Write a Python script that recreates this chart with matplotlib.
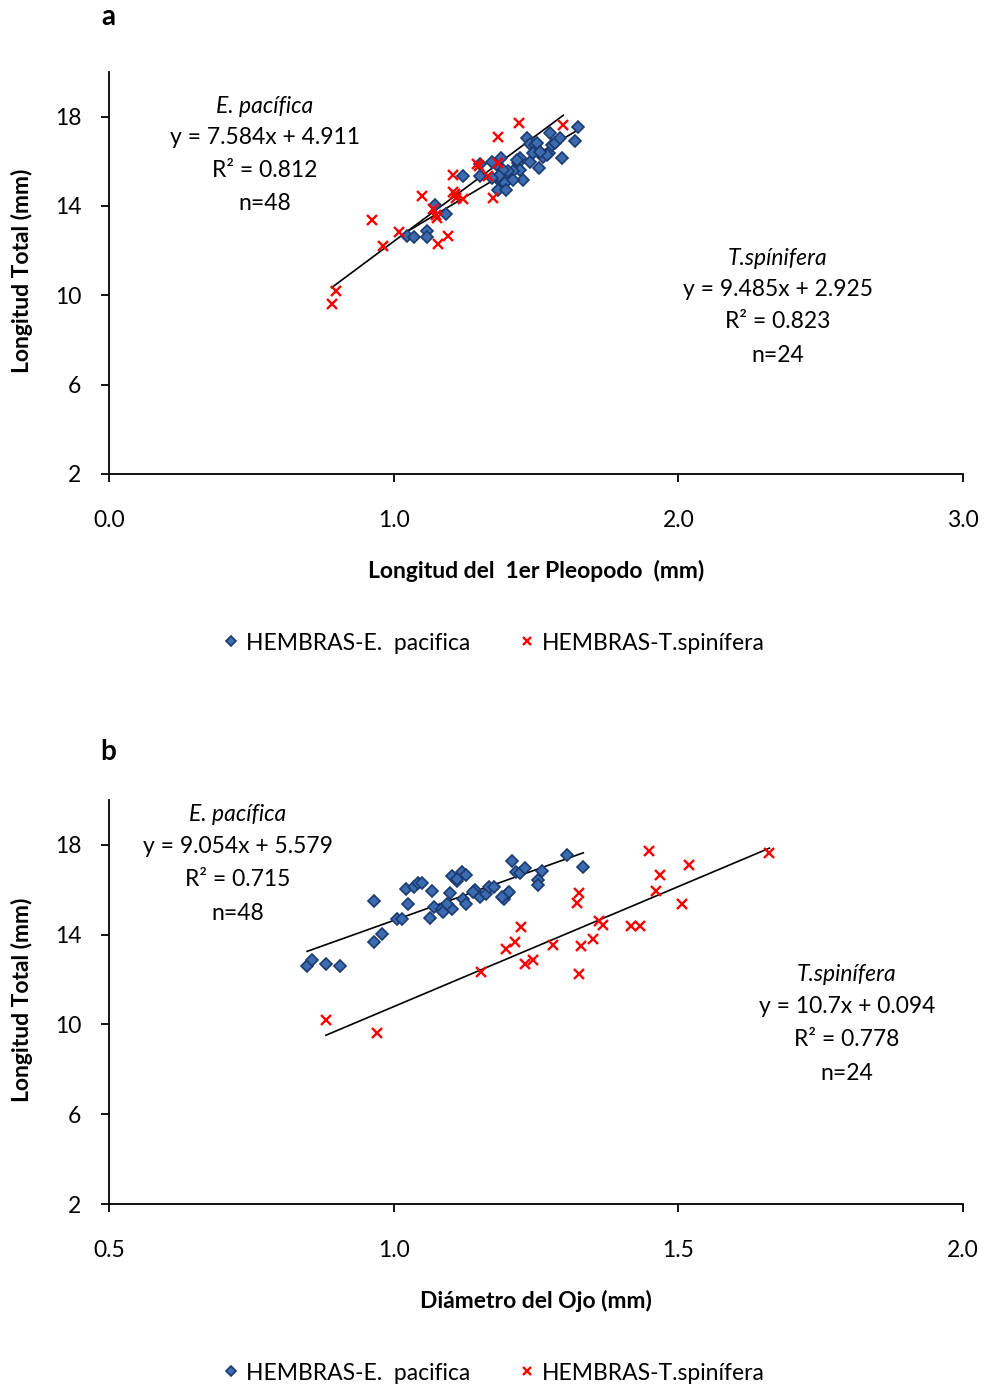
import numpy as np
import matplotlib
matplotlib.use("Agg")
import matplotlib.pyplot as plt

plt.rcParams['font.family'] = ['Lato', 'DejaVu Sans']

# panel a: longitud del 1er pleopodo vs longitud total
pleo_ep = [1.048, 1.071, 1.118, 1.118, 1.145, 1.183, 1.245, 1.303, 1.303, 1.344,
           1.377, 1.374, 1.362, 1.379, 1.397, 1.391, 1.368, 1.394, 1.444, 1.438,
           1.444, 1.455, 1.467, 1.479, 1.496, 1.502, 1.490, 1.479, 1.512, 1.526,
           1.547, 1.549, 1.557, 1.566, 1.584, 1.590, 1.637, 1.646, 1.420, 1.432,
           1.403, 1.385, 1.369, 1.502, 1.538, 1.344, 1.420, 1.514]
lt_ep_a = [12.67, 12.59, 12.89, 12.59, 14.03, 13.66, 15.36, 15.36, 15.87, 15.95,
           16.14, 15.70, 15.25, 15.03, 15.40, 15.03, 14.71, 14.71, 16.14, 15.92,
           15.62, 15.15, 17.03, 16.78, 16.73, 16.54, 16.39, 15.95, 15.70, 16.21,
           16.36, 17.28, 16.73, 16.81, 17.03, 16.14, 16.92, 17.54, 15.55, 16.07,
           15.55, 15.62, 15.36, 16.81, 16.28, 15.25, 15.18, 16.43]
pleo_ts = [0.782, 0.796, 0.923, 0.964, 1.020, 1.098, 1.139, 1.151, 1.155, 1.190,
           1.209, 1.209, 1.218, 1.242, 1.294, 1.332, 1.350, 1.367, 1.365, 1.442,
           1.596, 1.215, 1.150, 1.300]
lt_ts_a = [9.59, 10.19, 13.38, 12.22, 12.85, 14.44, 13.88, 13.48, 12.30, 12.67,
           15.40, 14.62, 14.37, 14.29, 15.87, 15.33, 14.37, 15.92, 17.10, 17.72,
           17.62, 14.55, 13.60, 15.80]

# panel b: diametro del ojo vs longitud total
ojo_ep = [0.848, 0.856, 0.881, 0.905, 0.965, 0.965, 0.979, 1.006, 1.014, 1.021,
          1.025, 1.036, 1.042, 1.064, 1.067, 1.071, 1.085, 1.087, 1.099, 1.102,
          1.094, 1.102, 1.111, 1.120, 1.127, 1.121, 1.127, 1.143, 1.151, 1.162,
          1.168, 1.176, 1.193, 1.200, 1.203, 1.207, 1.215, 1.222, 1.230, 1.253,
          1.253, 1.260, 1.305, 1.333, 1.111, 1.140, 1.190, 1.050]
lt_ep_b = [12.59, 12.89, 12.70, 12.61, 15.52, 13.67, 14.01, 14.71, 14.71, 16.05,
           15.36, 16.14, 16.32, 14.73, 15.96, 15.25, 15.13, 15.03, 15.87, 15.13,
           15.36, 16.63, 16.39, 16.78, 16.66, 15.59, 15.36, 15.99, 15.70, 15.81,
           16.14, 16.14, 15.59, 15.84, 15.92, 17.29, 16.78, 16.73, 16.95, 16.44,
           16.22, 16.84, 17.57, 17.03, 16.50, 15.90, 15.70, 16.30]
ojo_ts = [0.881, 0.971, 1.154, 1.197, 1.214, 1.224, 1.231, 1.245, 1.280, 1.326,
          1.322, 1.329, 1.326, 1.351, 1.361, 1.368, 1.416, 1.432, 1.449, 1.460,
          1.467, 1.506, 1.519, 1.660]
lt_ts_b = [10.20, 9.61, 12.33, 13.38, 13.67, 14.35, 12.68, 12.87, 13.56, 15.87,
           15.43, 13.48, 12.25, 13.82, 14.62, 14.44, 14.37, 14.37, 17.72, 15.96,
           16.66, 15.36, 17.10, 17.65]

# tendencias (pendiente, intercepto) y textos
fit_a = {'ep': (7.584, 4.911), 'ts': (9.485, 2.925)}
fit_b = {'ep': (9.054, 5.579), 'ts': (10.7, 0.094)}
txt_a_ep = ['E. pacífica', 'y = 7.584x + 4.911', 'R² = 0.812', 'n=48']
txt_a_ts = ['T.spínifera', 'y = 9.485x + 2.925', 'R² = 0.823', 'n=24']
txt_b_ep = ['E. pacífica', 'y = 9.054x + 5.579', 'R² = 0.715', 'n=48']
txt_b_ts = ['T.spinífera', 'y = 10.7x + 0.094', 'R² = 0.778', 'n=24']

blue_face = '#3d6bb0'
blue_edge = '#1a3a70'
red = '#ff0000'
fs = 16.5

fig = plt.figure(figsize=(9.86, 13.87), dpi=100)
ax_a = fig.add_axes([0.1105, 0.6583, 0.8662, 0.2898])
ax_b = fig.add_axes([0.1105, 0.1319, 0.8662, 0.2913])


def trend(ax, x, m, b):
    xs = np.array([min(x), max(x)])
    ax.plot(xs, m * xs + b, color='black', lw=1.2, zorder=3)


def block(ax, x, ys, lines):
    for i, (y, t) in enumerate(zip(ys, lines)):
        ax.text(x, y, t, transform=ax.transAxes, ha='center', va='center',
                fontsize=fs, style='italic' if i == 0 else 'normal')


def style_axes(ax, xlim, xticks, xlabel):
    ax.set_xlim(*xlim)
    ax.set_ylim(2, 20)
    ax.set_xticks(xticks)
    ax.set_xticklabels([f'{v:.1f}' for v in xticks])
    ax.set_yticks([2, 6, 10, 14, 18])
    for s in ['top', 'right']:
        ax.spines[s].set_visible(False)
    for s in ['left', 'bottom']:
        ax.spines[s].set_linewidth(1.3)
    ax.tick_params(axis='x', direction='out', length=6, width=1.3, pad=20, labelsize=fs)
    ax.tick_params(axis='y', direction='out', length=6, width=1.3, pad=14, labelsize=fs)
    ax.set_xlabel(xlabel, fontsize=fs, weight='bold', va='center')
    ax.xaxis.set_label_coords(0.5, -0.241)
    ax.set_ylabel('Longitud Total (mm)', fontsize=fs, weight='bold', va='center')
    ax.yaxis.set_label_coords(-0.102, 0.505)


def panel(ax, x_ep, y_ep, x_ts, y_ts, fits, legend_y):
    h1, = ax.plot(x_ep, y_ep, 'D', ms=6.3, mfc=blue_face, mec=blue_edge, mew=1.2,
                  ls='none', zorder=4, label='HEMBRAS-E.  pacifica')
    h2, = ax.plot(x_ts, y_ts, 'x', ms=7, mec=red, mew=1.7, ls='none', zorder=4,
                  label='HEMBRAS-T.spinífera')
    trend(ax, x_ep, *fits['ep'])
    trend(ax, x_ts, *fits['ts'])
    ax.legend(handles=[h1, h2], loc='center', bbox_to_anchor=(0.502, legend_y),
              bbox_transform=fig.transFigure, ncol=2, frameon=False, fontsize=fs,
              markerscale=0.75, handlelength=0.5, handletextpad=0.4, columnspacing=2.2)


panel(ax_a, pleo_ep, lt_ep_a, pleo_ts, lt_ts_a, fit_a, 1 - 643 / 1387)
style_axes(ax_a, (0, 3), [0.0, 1.0, 2.0, 3.0], 'Longitud del  1er Pleopodo  (mm)')
block(ax_a, 0.1827, [0.915, 0.836, 0.756, 0.672], txt_a_ep)
block(ax_a, 0.783, [0.537, 0.458, 0.378, 0.294], txt_a_ts)

panel(ax_b, ojo_ep, lt_ep_b, ojo_ts, lt_ts_b, fit_b, 1 - 1373 / 1387)
style_axes(ax_b, (0.5, 2.0), [0.5, 1.0, 1.5, 2.0], 'Diámetro del Ojo (mm)')
block(ax_b, 0.151, [0.963, 0.884, 0.804, 0.720], txt_b_ep)
block(ax_b, 0.864, [0.567, 0.488, 0.408, 0.324], txt_b_ts)

fig.text(108 / 986, 1 - 17 / 1387, 'a', fontsize=20, weight='bold', ha='center', va='center')
fig.text(108 / 986, 1 - 752 / 1387, 'b', fontsize=20, weight='bold', ha='center', va='center')

fig.savefig('out.png', dpi=100)
